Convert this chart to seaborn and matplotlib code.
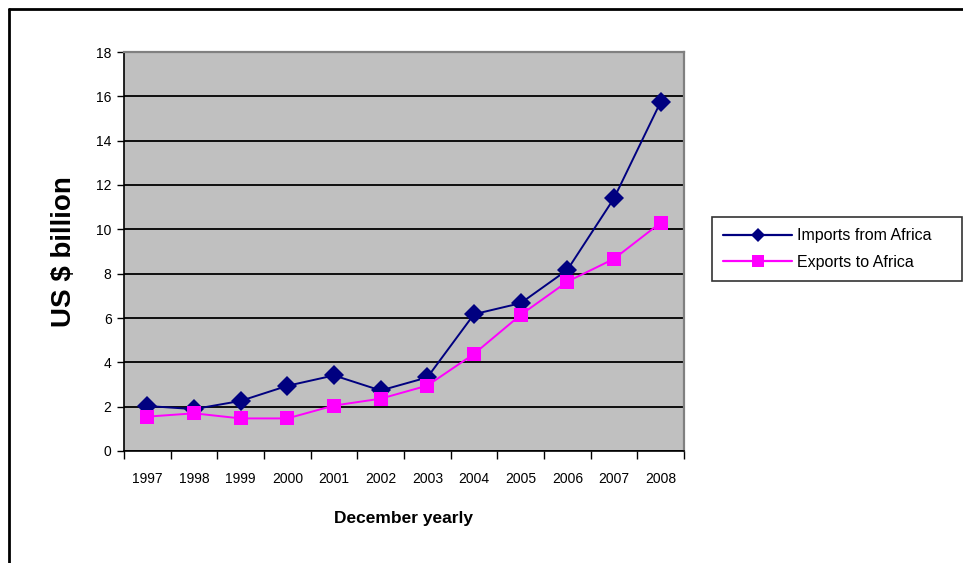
import numpy as np
import pandas as pd
import matplotlib
matplotlib.use("Agg")
import matplotlib.pyplot as plt
from matplotlib.lines import Line2D
from matplotlib.ticker import MultipleLocator
import seaborn as sns

years = ["1997", "1998", "1999", "2000", "2001", "2002",
         "2003", "2004", "2005", "2006", "2007", "2008"]
imports_from_africa = [2.03, 1.89, 2.26, 2.94, 3.41, 2.73,
                       3.32, 6.17, 6.67, 8.17, 11.4, 15.75]
exports_to_africa = [1.55, 1.70, 1.47, 1.47, 2.05, 2.36,
                     2.95, 4.38, 6.14, 7.64, 8.67, 10.3]
series_names = ["Imports from Africa", "Exports to Africa"]

sns.set_style("white")
plt.rcParams["font.family"] = ["Liberation Sans", "DejaVu Sans"]
plt.rcParams["text.color"] = "black"
plt.rcParams["axes.labelcolor"] = "black"
plt.rcParams["xtick.color"] = "black"
plt.rcParams["ytick.color"] = "black"

pos = np.arange(len(years))
df = pd.DataFrame({
    "pos": np.concatenate([pos, pos]),
    "value": imports_from_africa + exports_to_africa,
    "series": [series_names[0]] * len(years) + [series_names[1]] * len(years),
})

W, H = 963, 563
fig = plt.figure(figsize=(W / 100, H / 100), dpi=100)
ax = fig.add_axes([124 / W, 1 - 451 / H, (684 - 124) / W, (451 - 52) / H])
ax.set_facecolor("#C0C0C0")

sns.lineplot(data=df, x="pos", y="value", hue="series", style="series",
             palette={series_names[0]: "#000080", series_names[1]: "#FF00FF"},
             markers={series_names[0]: "D", series_names[1]: "s"},
             dashes=False, markersize=10, markeredgewidth=0, linewidth=1.4,
             ax=ax, zorder=3, legend=False)

ax.set_xlim(-0.5, len(years) - 0.5)
ax.set_ylim(0, 18)
ax.yaxis.set_major_locator(MultipleLocator(2))
ax.grid(axis="y", color="black", linewidth=1.3, zorder=1)
ax.set_axisbelow(True)

ax.set_xticks(pos)
ax.set_xticklabels(years)
ax.set_xticks(np.arange(-0.5, len(years)), minor=True)
ax.tick_params(axis="x", which="major", length=0, pad=15, labelsize=10)
ax.tick_params(axis="x", which="minor", length=6, width=1, color="black",
               direction="out", bottom=True)
ax.tick_params(axis="y", length=5, width=1, color="black", direction="out",
               left=True, labelsize=10, pad=4)

for side in ("top", "right"):
    ax.spines[side].set_color("#808080")
    ax.spines[side].set_linewidth(1.6)
for side in ("left", "bottom"):
    ax.spines[side].set_color("black")
    ax.spines[side].set_linewidth(1.2)

ax.set_xlabel("December yearly", fontsize=12.5, fontweight="bold", labelpad=18)
ax.set_ylabel("US $ billion", fontsize=20, fontweight="bold", labelpad=14)

handles = [
    Line2D([], [], color="#000080", marker="D", markersize=7, linewidth=1.6,
           markeredgewidth=0),
    Line2D([], [], color="#FF00FF", marker="s", markersize=8, linewidth=1.6,
           markeredgewidth=0),
]
leg = fig.legend(handles, ["Imports from Africa", "Exports to Africa"],
                 loc="center left",
                 bbox_to_anchor=(712 / W, 1 - 283 / H, (962 - 712) / W, (283 - 215) / H),
                 mode="expand", borderaxespad=0, fontsize=11.5, handlelength=4.3,
                 handletextpad=0.3, borderpad=0.7, labelspacing=0.7,
                 fancybox=False, frameon=True)
leg.get_frame().set_edgecolor("black")
leg.get_frame().set_linewidth(1.2)

# outer frame (left and top edges visible)
fig.add_artist(Line2D([9 / W, 9 / W], [0, 1 - 9 / H], color="black",
                      linewidth=2, transform=fig.transFigure))
fig.add_artist(Line2D([9 / W, 1], [1 - 9 / H, 1 - 9 / H], color="black",
                      linewidth=2, transform=fig.transFigure))

fig.savefig("out.png", dpi=100, facecolor="white")
